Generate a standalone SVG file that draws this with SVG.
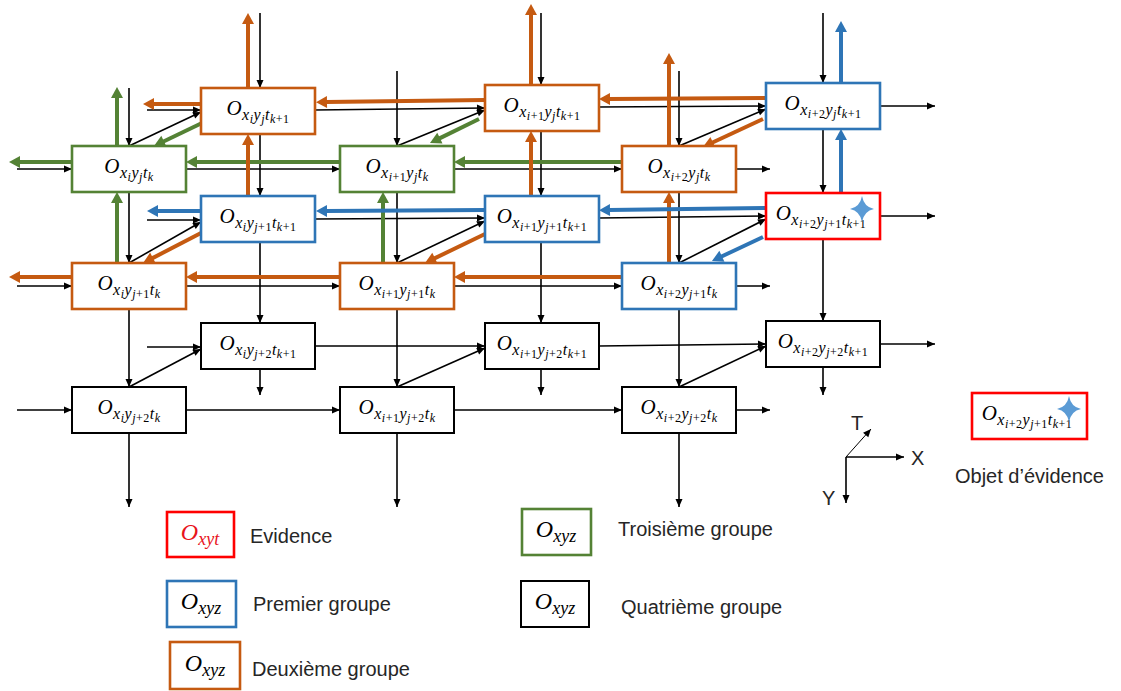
<svg xmlns="http://www.w3.org/2000/svg" xmlns:xlink="http://www.w3.org/1999/xlink" width="1121" height="691" viewBox="0 0 1121 691">
<style>
.k{stroke:#000;stroke-width:1.6;fill:none;marker-end:url(#mk)}
.g{stroke:#548235;stroke-width:4;fill:none;marker-end:url(#mg)}
.o{stroke:#C55A11;stroke-width:4;fill:none;marker-end:url(#mo)}
.b{stroke:#2E75B6;stroke-width:4;fill:none;marker-end:url(#mb)}
.ax{stroke:#000;stroke-width:1.6;fill:none;marker-end:url(#mk)}
.box{fill:#fff;stroke-width:2.6}
.cg{stroke:#548235}.co{stroke:#C55A11}.cb{stroke:#2E75B6}.cr{stroke:#FF0000}.ck{stroke:#000;stroke-width:2}
.m{font-family:"Liberation Serif","Times New Roman",serif;font-style:italic;font-size:21px;text-anchor:middle;letter-spacing:0.5px;fill:#000}
.s{font-size:16px}.ss{font-size:12px}.u{font-style:normal}
.ml{font-family:"Liberation Serif","Times New Roman",serif;font-style:italic;font-size:24px;text-anchor:middle;fill:#000}
.sl{font-size:18px}
.lbl{font-family:"Liberation Sans",Arial,sans-serif;font-size:20px;fill:#262626}
.star{fill:#5B9BD5}
</style>
<defs>
<marker id="mk" markerUnits="userSpaceOnUse" markerWidth="9" markerHeight="8" refX="8" refY="3.5" orient="auto" overflow="visible"><path d="M0,0 L8,3.5 L0,7 z" fill="#000"/></marker>
<marker id="mg" markerUnits="userSpaceOnUse" markerWidth="12" markerHeight="12" refX="1" refY="6" orient="auto" overflow="visible"><path d="M0,0 L11,6 L0,12 z" fill="#548235"/></marker>
<marker id="mo" markerUnits="userSpaceOnUse" markerWidth="12" markerHeight="12" refX="1" refY="6" orient="auto" overflow="visible"><path d="M0,0 L11,6 L0,12 z" fill="#C55A11"/></marker>
<marker id="mb" markerUnits="userSpaceOnUse" markerWidth="12" markerHeight="12" refX="1" refY="6" orient="auto" overflow="visible"><path d="M0,0 L11,6 L0,12 z" fill="#2E75B6"/></marker>
<path id="star" d="M0,-13 Q2,-2 12,0 Q2,2 0,13 Q-2,2 -12,0 Q-2,-2 0,-13 Z"/>
</defs>
<rect width="1121" height="691" fill="#fff"/>
<g id="connectors">
<g id="black-vertical">
<line class="k" x1="129" y1="88" x2="129" y2="146"/>
<line class="k" x1="129" y1="192" x2="129" y2="263"/>
<line class="k" x1="129" y1="309" x2="129" y2="387"/>
<line class="k" x1="129" y1="433" x2="129" y2="507"/>
<line class="k" x1="397" y1="71" x2="397" y2="146"/>
<line class="k" x1="397" y1="192" x2="397" y2="263"/>
<line class="k" x1="397" y1="309" x2="397" y2="387"/>
<line class="k" x1="397" y1="433" x2="397" y2="507"/>
<line class="k" x1="679" y1="71" x2="679" y2="146"/>
<line class="k" x1="679" y1="192" x2="679" y2="263"/>
<line class="k" x1="679" y1="309" x2="679" y2="387"/>
<line class="k" x1="679" y1="433" x2="679" y2="507"/>
<line class="k" x1="260" y1="13" x2="260" y2="88"/>
<line class="k" x1="260" y1="134" x2="260" y2="196"/>
<line class="k" x1="260" y1="242" x2="260" y2="323"/>
<line class="k" x1="260" y1="369" x2="260" y2="395"/>
<line class="k" x1="541" y1="13" x2="541" y2="85"/>
<line class="k" x1="541" y1="131" x2="541" y2="196"/>
<line class="k" x1="541" y1="242" x2="541" y2="323"/>
<line class="k" x1="541" y1="369" x2="541" y2="395"/>
<line class="k" x1="823" y1="13" x2="823" y2="83"/>
<line class="k" x1="823" y1="129" x2="823" y2="193"/>
<line class="k" x1="823" y1="239" x2="823" y2="321"/>
<line class="k" x1="823" y1="367" x2="823" y2="395"/>
</g>
<g id="black-horizontal">
<line class="k" x1="17" y1="169" x2="72" y2="169"/>
<line class="k" x1="186" y1="169" x2="340" y2="169"/>
<line class="k" x1="454" y1="169" x2="622" y2="169"/>
<line class="k" x1="736" y1="169" x2="770" y2="169"/>
<line class="k" x1="17" y1="286" x2="72" y2="286"/>
<line class="k" x1="186" y1="286" x2="340" y2="286"/>
<line class="k" x1="454" y1="286" x2="622" y2="286"/>
<line class="k" x1="736" y1="286" x2="770" y2="286"/>
<line class="k" x1="17" y1="410" x2="72" y2="410"/>
<line class="k" x1="186" y1="410" x2="340" y2="410"/>
<line class="k" x1="454" y1="410" x2="622" y2="410"/>
<line class="k" x1="736" y1="410" x2="770" y2="410"/>
<line class="k" x1="147" y1="110" x2="201" y2="110"/>
<line class="k" x1="315" y1="110" x2="485" y2="108"/>
<line class="k" x1="599" y1="107" x2="766" y2="106"/>
<line class="k" x1="880" y1="106" x2="935" y2="106"/>
<line class="k" x1="147" y1="220" x2="201" y2="220"/>
<line class="k" x1="315" y1="219" x2="485" y2="218"/>
<line class="k" x1="599" y1="218" x2="766" y2="216"/>
<line class="k" x1="880" y1="216" x2="935" y2="216"/>
<line class="k" x1="147" y1="347" x2="201" y2="347"/>
<line class="k" x1="315" y1="346" x2="485" y2="346"/>
<line class="k" x1="599" y1="346" x2="766" y2="344"/>
<line class="k" x1="880" y1="344" x2="935" y2="344"/>
</g>
<g id="black-diagonal">
<line class="k" x1="129" y1="146" x2="201" y2="112"/>
<line class="k" x1="397" y1="146" x2="485" y2="110"/>
<line class="k" x1="679" y1="146" x2="766" y2="109"/>
<line class="k" x1="129" y1="263" x2="201" y2="222"/>
<line class="k" x1="397" y1="263" x2="485" y2="221"/>
<line class="k" x1="679" y1="263" x2="766" y2="219"/>
<line class="k" x1="129" y1="387" x2="201" y2="349"/>
<line class="k" x1="397" y1="387" x2="485" y2="348"/>
<line class="k" x1="679" y1="387" x2="766" y2="346"/>
</g>
<g id="green-arrows">
<line class="g" x1="117" y1="146" x2="117" y2="97"/>
<line class="g" x1="117" y1="263" x2="117" y2="202"/>
<line class="g" x1="383" y1="263" x2="383" y2="202"/>
<line class="g" x1="72" y1="162" x2="19" y2="162"/>
<line class="g" x1="340" y1="162" x2="196" y2="162"/>
<line class="g" x1="622" y1="162" x2="464" y2="162"/>
<line class="g" x1="202" y1="123" x2="163" y2="141.7"/>
<line class="g" x1="479" y1="119" x2="439" y2="138.6"/>
</g>
<g id="orange-arrows">
<line class="o" x1="669" y1="146" x2="669" y2="63"/>
<line class="o" x1="669" y1="263" x2="669" y2="202"/>
<line class="o" x1="248" y1="88" x2="248" y2="23"/>
<line class="o" x1="248" y1="196" x2="248" y2="144"/>
<line class="o" x1="531" y1="85" x2="531" y2="14"/>
<line class="o" x1="531" y1="196" x2="531" y2="141"/>
<line class="o" x1="72" y1="277" x2="19" y2="277"/>
<line class="o" x1="340" y1="277" x2="196" y2="277"/>
<line class="o" x1="622" y1="277" x2="464" y2="277"/>
<line class="o" x1="201" y1="104" x2="153" y2="104"/>
<line class="o" x1="485" y1="100" x2="326" y2="102"/>
<line class="o" x1="766" y1="98" x2="609" y2="99"/>
<line class="o" x1="763" y1="119" x2="712" y2="142.8"/>
<line class="o" x1="201" y1="233" x2="152" y2="258.4"/>
<line class="o" x1="485" y1="234" x2="434" y2="258.6"/>
</g>
<g id="blue-arrows">
<line class="b" x1="841" y1="83" x2="841" y2="31"/>
<line class="b" x1="841" y1="193" x2="841" y2="139"/>
<line class="b" x1="201" y1="211" x2="157" y2="211"/>
<line class="b" x1="485" y1="210" x2="326" y2="211"/>
<line class="b" x1="766" y1="208" x2="609" y2="210"/>
<line class="b" x1="763" y1="237" x2="721" y2="256.7"/>
</g>
</g>
<g id="nodes">
<g id="n-xi-yj-tk"><rect class="box cg" x="72" y="146" width="114" height="46"/><text class="m" x="129" y="173">O<tspan class="s" dy="5">x</tspan><tspan class="ss" dy="3">i</tspan><tspan class="s" dy="-3">y</tspan><tspan class="ss" dy="3">j</tspan><tspan class="s" dy="-3">t</tspan><tspan class="ss" dy="3">k</tspan></text></g>
<g id="n-xi1-yj-tk"><rect class="box cg" x="340" y="146" width="114" height="46"/><text class="m" x="397" y="173">O<tspan class="s" dy="5">x</tspan><tspan class="ss" dy="3">i</tspan><tspan class="ss u">+1</tspan><tspan class="s" dy="-3">y</tspan><tspan class="ss" dy="3">j</tspan><tspan class="s" dy="-3">t</tspan><tspan class="ss" dy="3">k</tspan></text></g>
<g id="n-xi2-yj-tk"><rect class="box co" x="622" y="146" width="114" height="46"/><text class="m" x="679" y="173">O<tspan class="s" dy="5">x</tspan><tspan class="ss" dy="3">i</tspan><tspan class="ss u">+2</tspan><tspan class="s" dy="-3">y</tspan><tspan class="ss" dy="3">j</tspan><tspan class="s" dy="-3">t</tspan><tspan class="ss" dy="3">k</tspan></text></g>
<g id="n-xi-yj1-tk"><rect class="box co" x="72" y="263" width="114" height="46"/><text class="m" x="129" y="290">O<tspan class="s" dy="5">x</tspan><tspan class="ss" dy="3">i</tspan><tspan class="s" dy="-3">y</tspan><tspan class="ss" dy="3">j</tspan><tspan class="ss u">+1</tspan><tspan class="s" dy="-3">t</tspan><tspan class="ss" dy="3">k</tspan></text></g>
<g id="n-xi1-yj1-tk"><rect class="box co" x="340" y="263" width="114" height="46"/><text class="m" x="397" y="290">O<tspan class="s" dy="5">x</tspan><tspan class="ss" dy="3">i</tspan><tspan class="ss u">+1</tspan><tspan class="s" dy="-3">y</tspan><tspan class="ss" dy="3">j</tspan><tspan class="ss u">+1</tspan><tspan class="s" dy="-3">t</tspan><tspan class="ss" dy="3">k</tspan></text></g>
<g id="n-xi2-yj1-tk"><rect class="box cb" x="622" y="263" width="114" height="46"/><text class="m" x="679" y="290">O<tspan class="s" dy="5">x</tspan><tspan class="ss" dy="3">i</tspan><tspan class="ss u">+2</tspan><tspan class="s" dy="-3">y</tspan><tspan class="ss" dy="3">j</tspan><tspan class="ss u">+1</tspan><tspan class="s" dy="-3">t</tspan><tspan class="ss" dy="3">k</tspan></text></g>
<g id="n-xi-yj2-tk"><rect class="box ck" x="72" y="387" width="114" height="46"/><text class="m" x="129" y="414">O<tspan class="s" dy="5">x</tspan><tspan class="ss" dy="3">i</tspan><tspan class="s" dy="-3">y</tspan><tspan class="ss" dy="3">j</tspan><tspan class="ss u">+2</tspan><tspan class="s" dy="-3">t</tspan><tspan class="ss" dy="3">k</tspan></text></g>
<g id="n-xi1-yj2-tk"><rect class="box ck" x="340" y="387" width="114" height="46"/><text class="m" x="397" y="414">O<tspan class="s" dy="5">x</tspan><tspan class="ss" dy="3">i</tspan><tspan class="ss u">+1</tspan><tspan class="s" dy="-3">y</tspan><tspan class="ss" dy="3">j</tspan><tspan class="ss u">+2</tspan><tspan class="s" dy="-3">t</tspan><tspan class="ss" dy="3">k</tspan></text></g>
<g id="n-xi2-yj2-tk"><rect class="box ck" x="622" y="387" width="114" height="46"/><text class="m" x="679" y="414">O<tspan class="s" dy="5">x</tspan><tspan class="ss" dy="3">i</tspan><tspan class="ss u">+2</tspan><tspan class="s" dy="-3">y</tspan><tspan class="ss" dy="3">j</tspan><tspan class="ss u">+2</tspan><tspan class="s" dy="-3">t</tspan><tspan class="ss" dy="3">k</tspan></text></g>
<g id="n-xi-yj-tk1"><rect class="box co" x="201" y="88" width="114" height="46"/><text class="m" x="258" y="115">O<tspan class="s" dy="5">x</tspan><tspan class="ss" dy="3">i</tspan><tspan class="s" dy="-3">y</tspan><tspan class="ss" dy="3">j</tspan><tspan class="s" dy="-3">t</tspan><tspan class="ss" dy="3">k</tspan><tspan class="ss u">+1</tspan></text></g>
<g id="n-xi1-yj-tk1"><rect class="box co" x="485" y="85" width="114" height="46"/><text class="m" x="542" y="112">O<tspan class="s" dy="5">x</tspan><tspan class="ss" dy="3">i</tspan><tspan class="ss u">+1</tspan><tspan class="s" dy="-3">y</tspan><tspan class="ss" dy="3">j</tspan><tspan class="s" dy="-3">t</tspan><tspan class="ss" dy="3">k</tspan><tspan class="ss u">+1</tspan></text></g>
<g id="n-xi2-yj-tk1"><rect class="box cb" x="766" y="83" width="114" height="46"/><text class="m" x="823" y="110">O<tspan class="s" dy="5">x</tspan><tspan class="ss" dy="3">i</tspan><tspan class="ss u">+2</tspan><tspan class="s" dy="-3">y</tspan><tspan class="ss" dy="3">j</tspan><tspan class="s" dy="-3">t</tspan><tspan class="ss" dy="3">k</tspan><tspan class="ss u">+1</tspan></text></g>
<g id="n-xi-yj1-tk1"><rect class="box cb" x="201" y="196" width="114" height="46"/><text class="m" x="258" y="223">O<tspan class="s" dy="5">x</tspan><tspan class="ss" dy="3">i</tspan><tspan class="s" dy="-3">y</tspan><tspan class="ss" dy="3">j</tspan><tspan class="ss u">+1</tspan><tspan class="s" dy="-3">t</tspan><tspan class="ss" dy="3">k</tspan><tspan class="ss u">+1</tspan></text></g>
<g id="n-xi1-yj1-tk1"><rect class="box cb" x="485" y="196" width="114" height="46"/><text class="m" x="542" y="223">O<tspan class="s" dy="5">x</tspan><tspan class="ss" dy="3">i</tspan><tspan class="ss u">+1</tspan><tspan class="s" dy="-3">y</tspan><tspan class="ss" dy="3">j</tspan><tspan class="ss u">+1</tspan><tspan class="s" dy="-3">t</tspan><tspan class="ss" dy="3">k</tspan><tspan class="ss u">+1</tspan></text></g>
<g id="n-xi2-yj1-tk1"><rect class="box cr" x="766" y="193" width="114" height="46"/><text class="m" x="821" y="220">O<tspan class="s" dy="5">x</tspan><tspan class="ss" dy="3">i</tspan><tspan class="ss u">+2</tspan><tspan class="s" dy="-3">y</tspan><tspan class="ss" dy="3">j</tspan><tspan class="ss u">+1</tspan><tspan class="s" dy="-3">t</tspan><tspan class="ss" dy="3">k</tspan><tspan class="ss u">+1</tspan></text><use xlink:href="#star" href="#star" class="star" x="862" y="209"/></g>
<g id="n-xi-yj2-tk1"><rect class="box ck" x="201" y="323" width="114" height="46"/><text class="m" x="258" y="350">O<tspan class="s" dy="5">x</tspan><tspan class="ss" dy="3">i</tspan><tspan class="s" dy="-3">y</tspan><tspan class="ss" dy="3">j</tspan><tspan class="ss u">+2</tspan><tspan class="s" dy="-3">t</tspan><tspan class="ss" dy="3">k</tspan><tspan class="ss u">+1</tspan></text></g>
<g id="n-xi1-yj2-tk1"><rect class="box ck" x="485" y="323" width="114" height="46"/><text class="m" x="542" y="350">O<tspan class="s" dy="5">x</tspan><tspan class="ss" dy="3">i</tspan><tspan class="ss u">+1</tspan><tspan class="s" dy="-3">y</tspan><tspan class="ss" dy="3">j</tspan><tspan class="ss u">+2</tspan><tspan class="s" dy="-3">t</tspan><tspan class="ss" dy="3">k</tspan><tspan class="ss u">+1</tspan></text></g>
<g id="n-xi2-yj2-tk1"><rect class="box ck" x="766" y="321" width="114" height="46"/><text class="m" x="823" y="348">O<tspan class="s" dy="5">x</tspan><tspan class="ss" dy="3">i</tspan><tspan class="ss u">+2</tspan><tspan class="s" dy="-3">y</tspan><tspan class="ss" dy="3">j</tspan><tspan class="ss u">+2</tspan><tspan class="s" dy="-3">t</tspan><tspan class="ss" dy="3">k</tspan><tspan class="ss u">+1</tspan></text></g>
</g>
<g id="axes">
<line class="ax" x1="846" y1="457" x2="904" y2="457"/>
<line class="ax" x1="846" y1="457" x2="846" y2="503"/>
<line class="ax" x1="846" y1="457" x2="871" y2="429" style="stroke-width:1"/>
<text class="lbl" x="851" y="430">T</text>
<text class="lbl" x="911" y="465">X</text>
<text class="lbl" x="822" y="505">Y</text>
</g>
<g id="evidence-object">
<rect class="box cr" x="972" y="393" width="115" height="46"/>
<text class="m" x="1027" y="420">O<tspan class="s" dy="5">x</tspan><tspan class="ss" dy="3">i</tspan><tspan class="ss u">+2</tspan><tspan class="s" dy="-3">y</tspan><tspan class="ss" dy="3">j</tspan><tspan class="ss u">+1</tspan><tspan class="s" dy="-3">t</tspan><tspan class="ss" dy="3">k</tspan><tspan class="ss u">+1</tspan></text>
<use xlink:href="#star" href="#star" class="star" x="1069" y="409"/>
<text class="lbl" x="955" y="483">Objet d’évidence</text>
</g>
<g id="legend">
<g id="lg-evidence"><rect class="box cr" x="167" y="512" width="67" height="45"/><text class="ml" x="200" y="540" style="fill:#E8141C">O<tspan class="sl" dy="5">xyt</tspan></text><text class="lbl" x="250" y="543">Evidence</text></g>
<g id="lg-premier"><rect class="box cb" x="167" y="581" width="69" height="46"/><text class="ml" x="201" y="609">O<tspan class="sl" dy="5">xyz</tspan></text><text class="lbl" x="253" y="611">Premier groupe</text></g>
<g id="lg-deuxieme"><rect class="box co" x="170" y="642" width="70" height="47"/><text class="ml" x="205" y="671">O<tspan class="sl" dy="5">xyz</tspan></text><text class="lbl" x="252" y="676">Deuxième groupe</text></g>
<g id="lg-troisieme"><rect class="box cg" x="522" y="509" width="69" height="46"/><text class="ml" x="556" y="537">O<tspan class="sl" dy="5">xyz</tspan></text><text class="lbl" x="618" y="536">Troisième groupe</text></g>
<g id="lg-quatrieme"><rect class="box ck" x="521" y="581" width="68" height="46"/><text class="ml" x="555" y="609">O<tspan class="sl" dy="5">xyz</tspan></text><text class="lbl" x="621" y="614">Quatrième groupe</text></g>
</g>
</svg>
